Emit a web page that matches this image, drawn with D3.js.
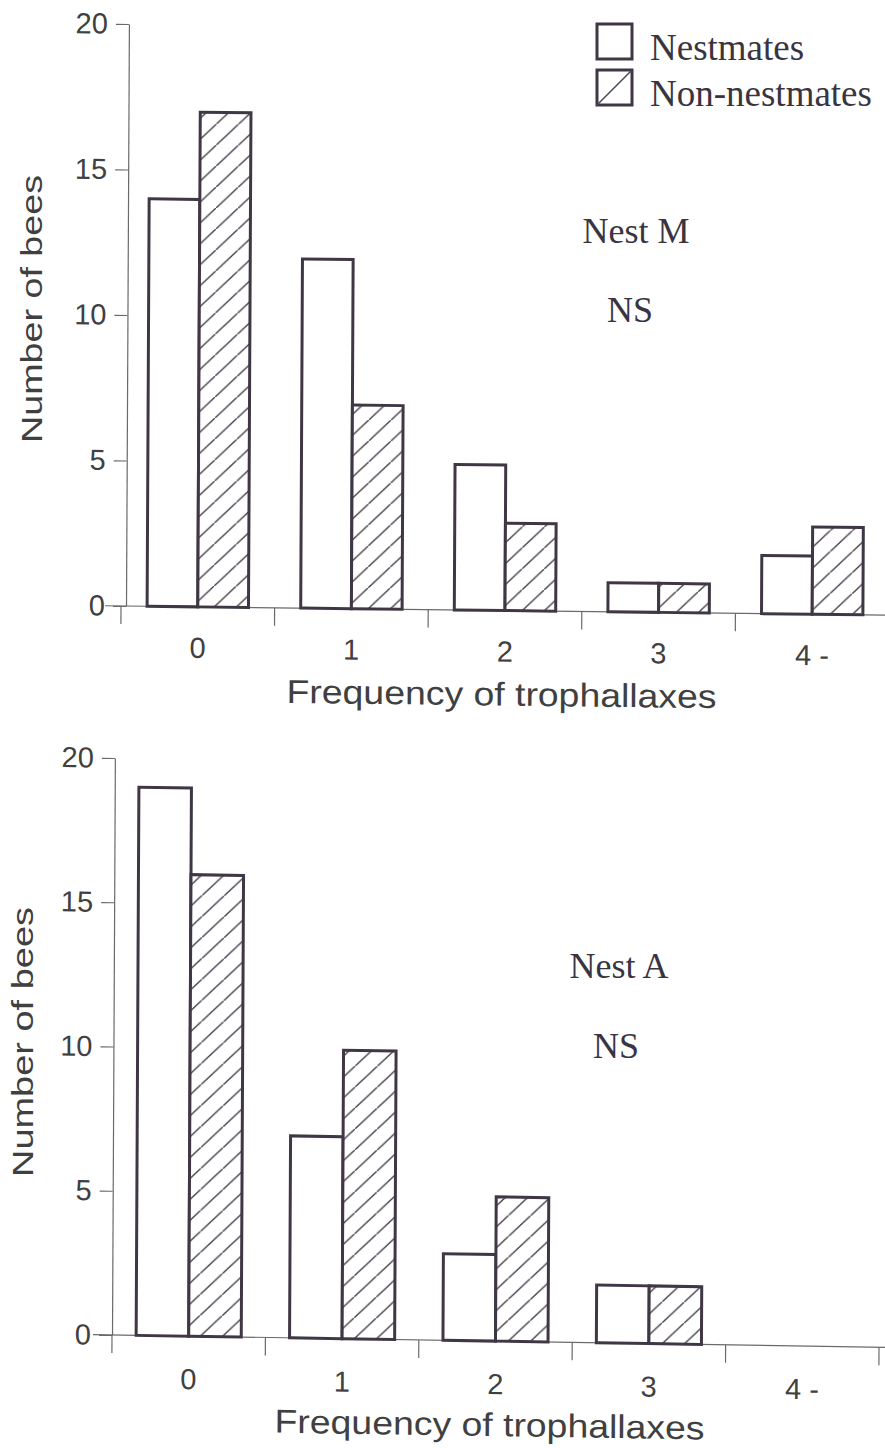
<!DOCTYPE html>
<html>
<head>
<meta charset="utf-8">
<script src="https://cdnjs.cloudflare.com/ajax/libs/d3/7.8.5/d3.min.js"></script>
<style>
  html, body { margin: 0; padding: 0; background: #ffffff; }
  svg { display: block; }
</style>
</head>
<body>
<svg id="chart" width="885" height="1448"></svg>
<script>
// ---------------- data ----------------
const categories = ["0", "1", "2", "3", "4 -"];
const seriesNames = ["Nestmates", "Non-nestmates"];
const nestM_nestmates = [14, 12, 5, 1, 2];
const nestM_nonNestmates = [17, 7, 3, 1, 3];
const nestA_nestmates = [19, 7, 3, 2, 0];
const nestA_nonNestmates = [16, 10, 5, 2, 0];
const yTickValues = [0, 5, 10, 15, 20];
const xTitle = "Frequency of trophallaxes";
const yTitle = "Number of bees";
const panelLabels = ["Nest M", "Nest A"];
const sigLabel = "NS";

// ---------------- styles / layout ----------------
const barStroke = "#3f3744";
const axisColor = "#6a6a6a";
const textColor = "#404040";
const sans = "'Liberation Sans', Arial, Helvetica, sans-serif";
const serif = "'Liberation Serif', 'Times New Roman', serif";

const svg = d3.select("#chart");
const defs = svg.append("defs");
const pat = defs.append("pattern")
  .attr("id", "hatch")
  .attr("patternUnits", "userSpaceOnUse")
  .attr("width", 22).attr("height", 21);
pat.append("rect").attr("width", 22).attr("height", 21).attr("fill", "#fff");
pat.append("path")
  .attr("d", "M-3,23.9 L25,-2.9")
  .attr("stroke", "#4a4350").attr("stroke-width", 1.4).attr("fill", "none");

const panels = [
  { values: [nestM_nestmates, nestM_nonNestmates], label: panelLabels[0],
    ox: 126, oy: 606, h: 582, xr: [-5, 763], pad: 0.34, skewB: 0.012, skewA: -0.005,
    axisFrom: -21, axisTo: 775, tickLabY: 51, titleX: 376, titleY: 95,
    yLab: [42, 309, 268], lab: [636, 243], ns: [630, 322] },
  { values: [nestA_nestmates, nestA_nonNestmates], label: panelLabels[1],
    ox: 112, oy: 1335, h: 577, xr: [0, 767], pad: 0.315, skewB: 0.016, skewA: -0.005,
    axisFrom: -19, axisTo: 785, tickLabY: 53, titleX: 378, titleY: 95,
    yLab: [33, 1042, 270], lab: [619, 978], ns: [616, 1058] }
];

panels.forEach(p => {
  const g = svg.append("g")
    .attr("transform", `translate(${p.ox},${p.oy}) matrix(1,${p.skewB},${p.skewA},1,0,0)`);

  const y = d3.scaleLinear().domain([0, 20]).range([0, -p.h]);
  const x0 = d3.scaleBand().domain(categories).range(p.xr)
    .paddingInner(p.pad).paddingOuter(p.pad / 2);
  const x1 = d3.scaleBand().domain(seriesNames).range([0, x0.bandwidth()]).padding(0);

  // x-axis baseline
  g.append("line")
    .attr("x1", p.axisFrom).attr("x2", p.axisTo).attr("y1", 0).attr("y2", 0)
    .attr("stroke", axisColor).attr("stroke-width", 1.2);
  // boundary ticks
  const gap = (x0.step() - x0.bandwidth()) / 2;
  const bounds = categories.map(c => x0(c) - gap).concat([x0(categories[categories.length - 1]) + x0.bandwidth() + gap]);
  g.selectAll(".xt").data(bounds).enter().append("line")
    .attr("x1", d => d).attr("x2", d => d).attr("y1", 0).attr("y2", 18)
    .attr("stroke", axisColor).attr("stroke-width", 1.2);
  // category labels
  g.selectAll(".xl").data(categories).enter().append("text")
    .attr("x", d => x0(d) + x0.bandwidth() / 2).attr("y", p.tickLabY)
    .attr("text-anchor", "middle")
    .attr("font-family", sans).attr("font-size", 29).attr("fill", textColor)
    .text(d => d);
  // x title
  g.append("text")
    .attr("x", p.titleX).attr("y", p.titleY).attr("text-anchor", "middle")
    .attr("font-family", sans).attr("font-size", 33).attr("fill", textColor)
    .attr("textLength", 430).attr("lengthAdjust", "spacingAndGlyphs")
    .text(xTitle);

  // y axis
  const yAxis = d3.axisLeft(y).tickValues(yTickValues).tickSize(13).tickSizeOuter(0).tickPadding(8);
  const ya = g.append("g").call(yAxis);
  ya.select(".domain").attr("stroke", axisColor).attr("stroke-width", 1.2);
  ya.selectAll(".tick line").attr("stroke", axisColor).attr("stroke-width", 1.2);
  ya.selectAll(".tick text").attr("font-family", sans).attr("font-size", 29).attr("fill", textColor);

  // bars
  const rows = [];
  categories.forEach((c, i) => {
    seriesNames.forEach((s, j) => rows.push({ c, s, v: p.values[j][i] }));
  });
  g.selectAll(".bar").data(rows.filter(d => d.v > 0)).enter().append("rect")
    .attr("x", d => x0(d.c) + x1(d.s))
    .attr("y", d => y(d.v))
    .attr("width", x1.bandwidth())
    .attr("height", d => y(0) - y(d.v))
    .attr("fill", d => d.s === seriesNames[1] ? "url(#hatch)" : "#fff")
    .attr("stroke", barStroke).attr("stroke-width", 3);

  // y title
  svg.append("text")
    .attr("transform", `translate(${p.yLab[0]},${p.yLab[1]}) rotate(-90)`)
    .attr("text-anchor", "middle")
    .attr("font-family", sans).attr("font-size", 29).attr("fill", textColor)
    .attr("textLength", p.yLab[2]).attr("lengthAdjust", "spacingAndGlyphs")
    .text(yTitle);

  // annotations
  svg.append("text").attr("x", p.lab[0]).attr("y", p.lab[1]).attr("text-anchor", "middle")
    .attr("font-family", serif).attr("font-size", 36).attr("fill", "#3a3440").text(p.label);
  svg.append("text").attr("x", p.ns[0]).attr("y", p.ns[1]).attr("text-anchor", "middle")
    .attr("font-family", serif).attr("font-size", 36).attr("fill", "#3a3440").text(sigLabel);
});

// legend
const legend = svg.append("g").attr("transform", "translate(597,24)");
seriesNames.forEach((s, i) => {
  const row = legend.append("g").attr("transform", `translate(0,${i * 46})`);
  row.append("rect").attr("width", 35).attr("height", 35)
    .attr("fill", "#fff").attr("stroke", barStroke).attr("stroke-width", 3);
  if (i === 1) {
    row.append("line").attr("x1", 0).attr("y1", 35).attr("x2", 35).attr("y2", 0)
      .attr("stroke", "#4a4350").attr("stroke-width", 1.4);
  }
  row.append("text").attr("x", 53).attr("y", 36)
    .attr("font-family", serif).attr("font-size", 37).attr("fill", "#3a3440").text(s);
});
</script>
</body>
</html>
